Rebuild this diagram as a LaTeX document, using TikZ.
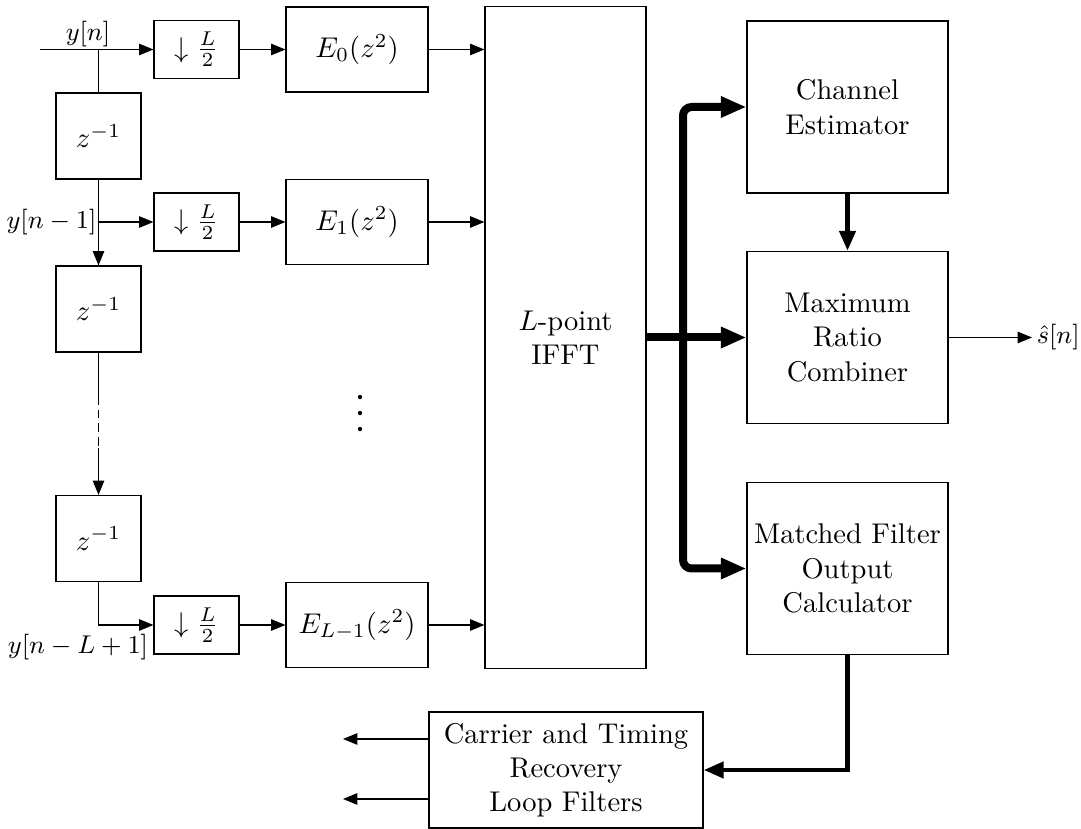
\documentclass[tikz,border=0pt]{standalone}
\usetikzlibrary{arrows.meta}
\begin{document}
\begin{tikzpicture}[x=0.3505pt,y=-0.3505pt,
  box/.style={draw,line width=0.4pt,inner sep=1pt,align=center},
  dbox/.style={box,minimum width=29.79pt,minimum height=20.33pt},
  ebox/.style={box,minimum width=49.77pt,minimum height=29.79pt},
  zbox/.style={box,minimum width=29.79pt,minimum height=30.14pt},
  bigbox/.style={box,minimum width=70.45pt,minimum height=60.29pt},
  sig/.style={line width=0.4pt,-{Triangle[length=5pt,width=4pt]}},
  plain/.style={line width=0.4pt},
  bus/.style={line width=2.8pt,-{Triangle[length=9pt,width=7pt]},rounded corners=3pt},
  med/.style={line width=1.7pt,-{Triangle[length=7pt,width=5.5pt]}},
  lbl/.style={inner sep=1pt,font=\small}
]
\useasboundingbox (0,0) rectangle (1081,829);

% blocks
\node[dbox] (D0) at (196.5,49.5) {$\downarrow \frac{L}{2}$};
\node[ebox] (E0) at (357,49.5) {$E_0(z^2)$};
\node[zbox] (Z1) at (98.5,136) {$z^{-1}$};
\node[dbox] (D1) at (196.5,222) {$\downarrow \frac{L}{2}$};
\node[ebox] (E1) at (357,222) {$E_1(z^2)$};
\node[zbox] (Z2) at (98.5,309) {$z^{-1}$};
\node[zbox] (Z3) at (98.5,538.5) {$z^{-1}$};
\node[dbox] (D2) at (196.5,625) {$\downarrow \frac{L}{2}$};
\node[ebox] (E2) at (357,625) {$E_{L-1}(z^2)$};
\node[box,minimum width=56.43pt,minimum height=232pt] (IFFT) at (565.5,337.5) {$L$-point\\IFFT};
\node[bigbox] (CE) at (847.5,107) {Channel\\Estimator};
\node[bigbox] (MRC) at (847.5,337.5) {Maximum\\Ratio\\Combiner};
\node[bigbox] (MF) at (847.5,568.5) {Matched Filter\\Output\\Calculator};
\node[box,minimum width=96.04pt,minimum height=40.66pt] (CTR) at (566,770) {Carrier and Timing\\Recovery\\Loop Filters};

% free ends and bends
\coordinate (in) at (40,49.5);
\coordinate (bus) at (683,337.5);
\coordinate (da) at (98.5,396);
\coordinate (db) at (98.5,448);
\coordinate (s) at (1032,337.5);
\coordinate (o1) at (343,739);
\coordinate (o2) at (343,799);

% labels
\node[lbl] (l0) at (88,34) {$y[n]$};
\node[lbl,anchor=east,inner sep=0.5pt] (l1) at (Z1.south |- D1.west) {$y[n-1]$};
\node[lbl] (l2) at (78,647) {$y[n-L+1]$};
\node[lbl,anchor=west,inner sep=1.5pt] (lo) at (s) {$\hat{s}[n]$};

% left chain
\draw[sig] (in) -- (D0.west);
\draw[plain] (Z1.north |- in) -- (Z1.north);
\draw[sig] (Z1.south) -- (Z2.north);
\draw[sig] (Z1.south |- D1.west) -- (D1.west);
\draw[plain] (Z2.south) -- (da);
\draw[line width=0.5pt,dash pattern=on 3pt off 1.8pt] (da) -- (db);
\draw[sig] (db) -- (Z3.north);
\draw[sig] (Z3.south) |- (D2.west);

% rows
\draw[sig] (D0.east) -- (E0.west);
\draw[sig] (D1.east) -- (E1.west);
\draw[sig] (D2.east) -- (E2.west);
\draw[sig] (E0.east) -- (IFFT.west |- E0.east);
\draw[sig] (E1.east) -- (IFFT.west |- E1.east);
\draw[sig] (E2.east) -- (IFFT.west |- E2.east);

% dots
\fill (360,397) circle[radius=0.75pt];
\fill (360,413) circle[radius=0.75pt];
\fill (360,429) circle[radius=0.75pt];

% bus
\draw[bus] (IFFT.east) -- (MRC.west);
\draw[bus] (bus) |- (CE.west);
\draw[bus] (bus) |- (MF.west);

\draw[med] (CE.south) -- (MRC.north);
\draw[sig] (MRC.east) -- (s);
\draw[med] (MF.south) |- (CTR.east);
\draw[sig] (CTR.west |- o1) -- (o1);
\draw[sig] (CTR.west |- o2) -- (o2);
\end{tikzpicture}
\end{document}
